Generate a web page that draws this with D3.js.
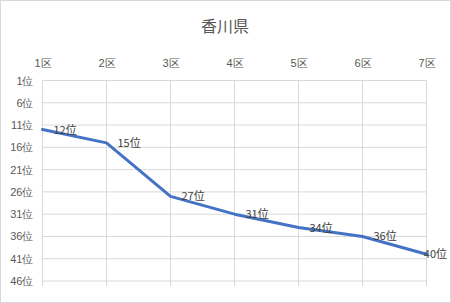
<!DOCTYPE html>
<html>
<head>
<meta charset="utf-8">
<title>香川県</title>
<script src="https://d3js.org/d3.v7.min.js"></script>
<style>
body { margin: 0; background: #fff; }
svg { display: block; font-family: "Noto Sans CJK JP", "Noto Sans", sans-serif; }
.tick text { fill: #595959; font-size: 11px; }
.tick line { stroke: #d9d9d9; }
.domain { display: none; }
</style>
</head>
<body>
<script>
const districts = ['1区', '2区', '3区', '4区', '5区', '6区', '7区'];
const ranks = [12, 15, 27, 31, 34, 36, 40];
const rankTicks = [1, 6, 11, 16, 21, 26, 31, 36, 41, 46];

const width = 451, height = 303;
const margin = {top: 80.5, right: 24.5, bottom: 22, left: 42.5};

const svg = d3.select('body').append('svg').attr('width', width).attr('height', height);

svg.append('rect').attr('x', 0.5).attr('y', 0.5).attr('width', width - 1).attr('height', height - 1)
    .attr('fill', '#fff').attr('stroke', '#d9d9d9');

const x = d3.scalePoint().domain(districts).range([margin.left, width - margin.right]);
const y = d3.scaleLinear().domain([1, 46]).range([margin.top, height - margin.bottom]);

// horizontal gridlines
svg.append('g').selectAll('line').data(rankTicks).enter().append('line')
    .attr('x1', margin.left).attr('x2', width - margin.right)
    .attr('y1', d => y(d)).attr('y2', d => y(d))
    .attr('stroke', '#d9d9d9');

// vertical gridlines
svg.append('g').selectAll('line').data(districts).enter().append('line')
    .attr('x1', d => x(d)).attr('x2', d => x(d))
    .attr('y1', margin.top).attr('y2', height - margin.bottom + 5)
    .attr('stroke', '#d9d9d9');

const xAxis = d3.axisTop(x).tickSize(0).tickPadding(14);
svg.append('g').attr('transform', 'translate(0,' + margin.top + ')').call(xAxis);

const yAxis = d3.axisLeft(y).tickValues(rankTicks).tickFormat(d => d + '位').tickSize(0).tickPadding(9);
svg.append('g').attr('transform', 'translate(' + margin.left + ',0)').call(yAxis);

svg.append('text').attr('x', 225).attr('y', 32).attr('text-anchor', 'middle')
    .attr('fill', '#595959').style('font-size', '16px').text('香川県');

const line = d3.line().x((d, i) => x(districts[i])).y(d => y(d));
svg.append('path').datum(ranks).attr('d', line)
    .attr('fill', 'none').attr('stroke', '#4472c4').attr('stroke-width', 3)
    .attr('stroke-linejoin', 'round').attr('stroke-linecap', 'round');

// data labels, pushed back inside the chart when they would run off the edge
svg.append('g').selectAll('text').data(ranks).enter().append('text')
    .attr('y', d => y(d) + 4)
    .attr('fill', '#404040').style('font-size', '11px')
    .text(d => d + '位')
    .attr('x', function(d, i) {
        let w = this.getComputedTextLength();
        return Math.min(x(districts[i]) + 11, width - w - 4);
    });
</script>
</body>
</html>
